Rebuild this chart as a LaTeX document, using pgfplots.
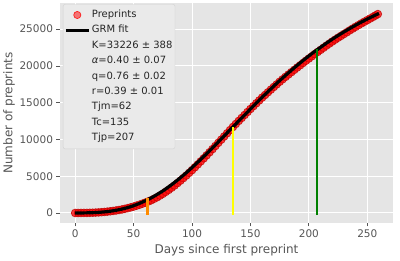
\documentclass[border=0pt]{standalone}
\usepackage{pgfplots}
\pgfplotsset{compat=1.18}
\usepackage{fontspec}
\setmainfont{DejaVu Sans}
\definecolor{axbg}{HTML}{E5E5E5}
\definecolor{txtgray}{HTML}{555555}
\definecolor{leggray}{HTML}{EAEAEA}
\definecolor{legedge}{HTML}{D2D2D2}
\definecolor{myorange}{HTML}{FF8C00}
\definecolor{myyellow}{HTML}{FFFF00}
\definecolor{mygreen}{HTML}{008000}
\pgfplotsset{
  mylineleg/.style={legend image code/.code={\draw[##1] (0pt,0pt) -- (23pt,0pt);}},
  mymarkleg/.style={legend image code/.code={\draw[mark=*, mark size=3.6pt, mark options={fill=red, fill opacity=0.5, draw=red, draw opacity=0.8, line width=0.7pt}] plot coordinates {(11.5pt,0pt)};}},
  myemptyleg/.style={legend image code/.code={\path (0pt,0pt) -- (23pt,0pt);}},
}
\begin{document}
\begin{tikzpicture}
\begin{axis}[
  at={(60pt,38pt)}, anchor=south west,
  scale only axis, width=333pt, height=220pt,
  xmin=-13, xmax=272, ymin=-1360, ymax=28560,
  clip marker paths=true,
  scaled y ticks=false, scaled x ticks=false,
  axis background/.style={fill=axbg},
  axis line style={draw=none},
  grid=major, major grid style={white, line width=1pt},
  xtick={0,50,100,150,200,250},
  ytick={0,5000,10000,15000,20000,25000},
  xtick pos=bottom, ytick pos=left,
  tick align=outside, major tick length=3.5pt,
  tick style={draw=txtgray, line width=0.8pt},
  /pgf/number format/1000 sep={},
  /pgf/number format/assume math mode=true,
  ticklabel style={font=\fontsize{10.5}{12}\selectfont, text=txtgray},
  xlabel={Days since first preprint},
  ylabel={Number of preprints},
  label style={font=\fontsize{12}{14}\selectfont, text=txtgray},
  xlabel style={at={(axis description cs:0.5,-0.123)}, anchor=center},
  ylabel style={at={(axis description cs:-0.153,0.5)}, anchor=center},
  legend cell align=left,
  legend style={at={(axis description cs:0.009,0.995)}, anchor=north west,
    fill=leggray, draw=legedge, rounded corners=2pt,
    font=\fontsize{10}{12}\selectfont, text=black!85,
    inner xsep=1pt, inner ysep=3pt, row sep=0pt,
    nodes={inner xsep=1.5pt, inner ysep=2.8pt, text height=7.5pt, text depth=2.3pt},
    /tikz/every even column/.append style={column sep=3.5pt}},
]
\addplot[only marks, mark=*, mark size=3.9pt,
  mark options={fill=red, fill opacity=0.75, draw=red!75!black, draw opacity=0.8, line width=0.7pt},
  mymarkleg]
coordinates {
(0,0) (2.5,2) (5,5) (7.5,10) (10,15) (12.5,26) (15,38) (17.5,58) (20,78) (22.5,109)
(25,140) (27.5,185) (30,230) (32.5,285) (35,340) (37.5,410) (40,480) (42.5,570)
(45,660) (47.5,765) (50,870) (52.5,995) (55,1120) (57.5,1265) (60,1410) (62.5,1570)
(65,1730) (67.5,1930) (70,2130) (72.5,2365) (75,2600) (77.5,2870) (80,3140) (82.5,3435)
(85,3730) (87.5,4060) (90,4390) (92.5,4735) (95,5080) (97.5,5455) (100,5830) (102.5,6225)
(105,6620) (107.5,7025) (110,7430) (112.5,7845) (115,8260) (117.5,8685) (120,9110)
(122.5,9540) (125,9970) (127.5,10405) (130,10840) (132.5,11270) (135,11700) (137.5,12110)
(140,12520) (142.5,12925) (145,13330) (147.5,13735) (150,14140) (152.5,14525) (155,14920)
(157.5,15300) (160,15690) (162.5,16050) (165,16420) (167.5,16780) (170,17140) (172.5,17495)
(175,17850) (177.5,18180) (180,18510) (182.5,18830) (185,19150) (187.5,19465) (190,19780)
(192.5,20090) (195,20400) (197.5,20705) (200,21010) (202.5,21310) (205,21610) (207.5,21895)
(210,22180) (212.5,22470) (215,22760) (217.5,23035) (220,23310) (222.5,23575) (225,23840)
(227.5,24085) (230,24340) (232.5,24585) (235,24840) (237.5,25080) (240,25320) (242.5,25555)
(245,25790) (247.5,26010) (250,26230) (252.5,26450) (255,26670) (257,26860) (259,27050)
};
\addlegendentry{Preprints}
\addplot[black, line width=3.2pt, smooth, mylineleg]
coordinates {
(0,2) (5,7) (10,19) (15,43) (20,85) (25,150) (30,240) (35,370) (40,530) (45,740)
(50,990) (55,1300) (60,1660) (65,2050) (70,2510) (75,3000) (80,3560) (85,4150)
(90,4790) (95,5460) (100,6180) (105,6920) (110,7680) (115,8460) (120,9260) (125,10070)
(130,10890) (135,11700) (140,12520) (145,13330) (150,14140) (155,14940) (160,15740)
(165,16500) (170,17260) (175,18000) (180,18710) (185,19400) (190,20080) (195,20730)
(200,21360) (205,21960) (210,22530) (215,23090) (220,23630) (225,24140) (230,24620)
(235,25090) (240,25540) (245,25970) (250,26380) (255,26770) (260,27140)
};
\addlegendentry{GRM fit}
\addlegendimage{draw=none, myemptyleg}
\addlegendentry{K=33226 ± 388}
\addlegendimage{draw=none, myemptyleg}
\addlegendentry{\textit{α}=0.40 ± 0.07}
\addlegendimage{draw=none, myemptyleg}
\addlegendentry{q=0.76 ± 0.02}
\addlegendimage{draw=none, myemptyleg}
\addlegendentry{r=0.39 ± 0.01}
\addlegendimage{draw=none, myemptyleg}
\addlegendentry{Tjm=62}
\addlegendimage{draw=none, myemptyleg}
\addlegendentry{Tc=135}
\addlegendimage{draw=none, myemptyleg}
\addlegendentry{Tjp=207}
\addplot[myorange, line width=2.6pt, forget plot] coordinates {(62,-300) (62,2030)};
\addplot[myyellow, line width=2.6pt, forget plot] coordinates {(135,-300) (135,11700)};
\addplot[mygreen, line width=2.6pt, forget plot] coordinates {(207,-300) (207,22350)};
\end{axis}
\pgfresetboundingbox
\path (0,0) rectangle (400pt,261pt);
\end{tikzpicture}
\end{document}
